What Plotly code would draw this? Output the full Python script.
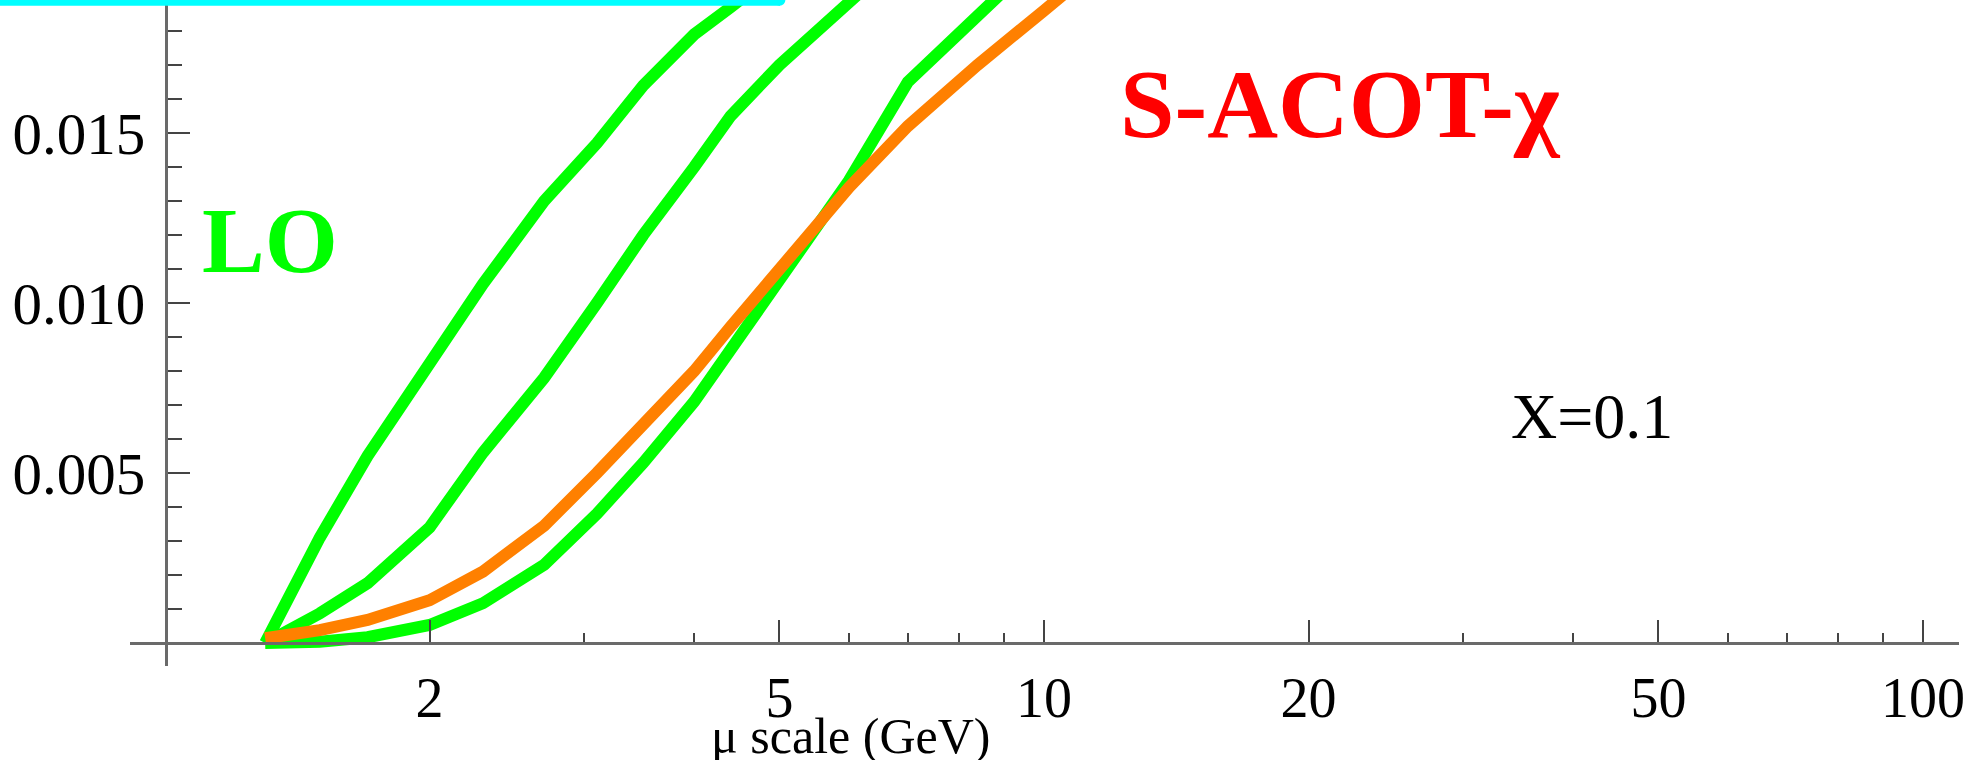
import plotly.graph_objects as go

# Scale mu (GeV) and structure-function values at x = 0.1
mu_lo_a = [1.3, 1.5, 1.7, 2.0, 2.3, 2.7, 3.1, 3.5, 4.0, 4.4, 5.0, 6.0]
lo_a = [0.0, 0.0031, 0.0055, 0.0083, 0.01056, 0.0130, 0.0147, 0.0164, 0.0179, 0.0187, 0.0198, 0.0214]

mu_lo_b = [1.3, 1.5, 1.7, 2.0, 2.3, 2.7, 3.1, 3.5, 4.0, 4.4, 5.0, 5.5, 6.0, 7.0]
lo_b = [0.0, 0.00087, 0.00176, 0.0034, 0.0056, 0.0078, 0.0100, 0.0120, 0.0140, 0.0155, 0.0170, 0.0180, 0.0188, 0.0204]

mu_lo_c = [1.3, 1.5, 1.7, 2.0, 2.3, 2.7, 3.1, 3.5, 4.0, 4.4, 5.0, 6.0, 7.0, 8.4, 10.0]
lo_c = [0.0, 0.00004, 0.00017, 0.00053, 0.00117, 0.0023, 0.0038, 0.0053, 0.0071, 0.0086, 0.0107, 0.0136, 0.0165, 0.0185, 0.0203]

mu_sacot = [1.3, 1.5, 1.7, 2.0, 2.3, 2.7, 3.1, 3.5, 4.0, 4.4, 5.0, 6.0, 7.0, 8.4, 10.0, 12.0]
sacot = [0.00014, 0.00038, 0.00068, 0.00126, 0.0021, 0.00345, 0.0050, 0.0064, 0.0080, 0.0093, 0.0110, 0.0134, 0.0152, 0.0170, 0.0186, 0.0203]

x_major = [2, 5, 10, 20, 50, 100]
x_major_text = ["2", "5", "10", "20", "50", "100"]
x_minor = [3, 4, 6, 7, 8, 9, 30, 40, 60, 70, 80, 90]
y_major = [0.005, 0.010, 0.015]
y_major_text = ["0.005", "0.010", "0.015"]
y_minor = [0.001, 0.002, 0.003, 0.004, 0.006, 0.007, 0.008, 0.009,
           0.011, 0.012, 0.013, 0.014, 0.016, 0.017, 0.018]

W, H = 1984, 760
ML, MR, MT, MB = 130, 25, 0, 94
PW, PH = W - ML - MR, H - MT - MB


def px(xp):
    return (xp - ML) / PW


def py(yp):
    return (H - MB - yp) / PH


SERIF = "Liberation Serif, Times New Roman, serif"
GREEN = "#00FF00"
ORANGE = "#FF8000"
CYAN = "#00FFFF"
AXIS = "#6a6a6a"
TICK = "#444444"

fig = go.Figure()
for mu, vals in [(mu_lo_a, lo_a), (mu_lo_b, lo_b), (mu_lo_c, lo_c)]:
    fig.add_trace(go.Scatter(x=mu, y=vals, mode="lines",
                             line=dict(color=GREEN, width=12), showlegend=False))
fig.add_trace(go.Scatter(x=mu_sacot, y=sacot, mode="lines",
                         line=dict(color=ORANGE, width=12), showlegend=False))

fig.update_layout(
    width=W, height=H,
    margin=dict(l=ML, r=MR, t=MT, b=MB),
    paper_bgcolor="white", plot_bgcolor="white",
    font=dict(family=SERIF, color="black"),
    showlegend=False,
    xaxis=dict(
        type="log", range=[-0.03982, 2.04096],
        tickmode="array", tickvals=x_major, ticktext=x_major_text,
        ticks="inside", ticklen=22, tickwidth=2, tickcolor=TICK,
        tickfont=dict(family=SERIF, size=56, color="black"),
        ticklabelstandoff=5,
        minor=dict(tickmode="array", tickvals=x_minor, ticks="inside",
                   ticklen=9, tickwidth=2, tickcolor=TICK, showgrid=False),
        showgrid=False, zeroline=False,
        showline=True, linecolor=AXIS, linewidth=3,
        anchor="free", position=py(643),
    ),
    yaxis=dict(
        range=[-0.000676, 0.018912],
        tickmode="array", tickvals=y_major, ticktext=y_major_text,
        ticks="inside", ticklen=22, tickwidth=2, tickcolor=TICK,
        tickfont=dict(family=SERIF, size=59, color="black"),
        ticklabelstandoff=8,
        minor=dict(tickmode="array", tickvals=y_minor, ticks="inside",
                   ticklen=14, tickwidth=2, tickcolor=TICK, showgrid=False),
        showgrid=False, zeroline=False,
        showline=True, linecolor=AXIS, linewidth=3,
        anchor="free", position=px(166),
    ),
)

# cyan frame edge along the top, with a rounded right end
fig.add_shape(type="rect", xref="paper", yref="paper",
              x0=px(-5), x1=px(780), y0=py(5.7), y1=py(-5),
              fillcolor=CYAN, line=dict(width=0), layer="above")
fig.add_shape(type="circle", xref="paper", yref="paper",
              x0=px(774), x1=px(785.4), y0=py(5.7), y1=py(-5.7),
              fillcolor=CYAN, line=dict(width=0), layer="above")

fig.add_annotation(text="<b>LO</b>", xref="paper", yref="paper",
                   x=px(270), y=py(240), xanchor="center", yanchor="middle",
                   showarrow=False, font=dict(family=SERIF, size=94, color=GREEN))
fig.add_annotation(text="<b>S-ACOT-χ</b>", xref="paper", yref="paper",
                   x=px(1340), y=py(104), xanchor="center", yanchor="middle",
                   showarrow=False, font=dict(family=SERIF, size=98, color="#FF0000"))
fig.add_annotation(text="X=0.1", xref="paper", yref="paper",
                   x=px(1592), y=py(416), xanchor="center", yanchor="middle",
                   showarrow=False, font=dict(family=SERIF, size=64, color="black"))
fig.add_annotation(text="μ scale (GeV)", xref="paper", yref="paper",
                   x=px(850), y=py(736), xanchor="center", yanchor="middle",
                   showarrow=False, font=dict(family=SERIF, size=50, color="black"))

fig.write_html("out.html")
